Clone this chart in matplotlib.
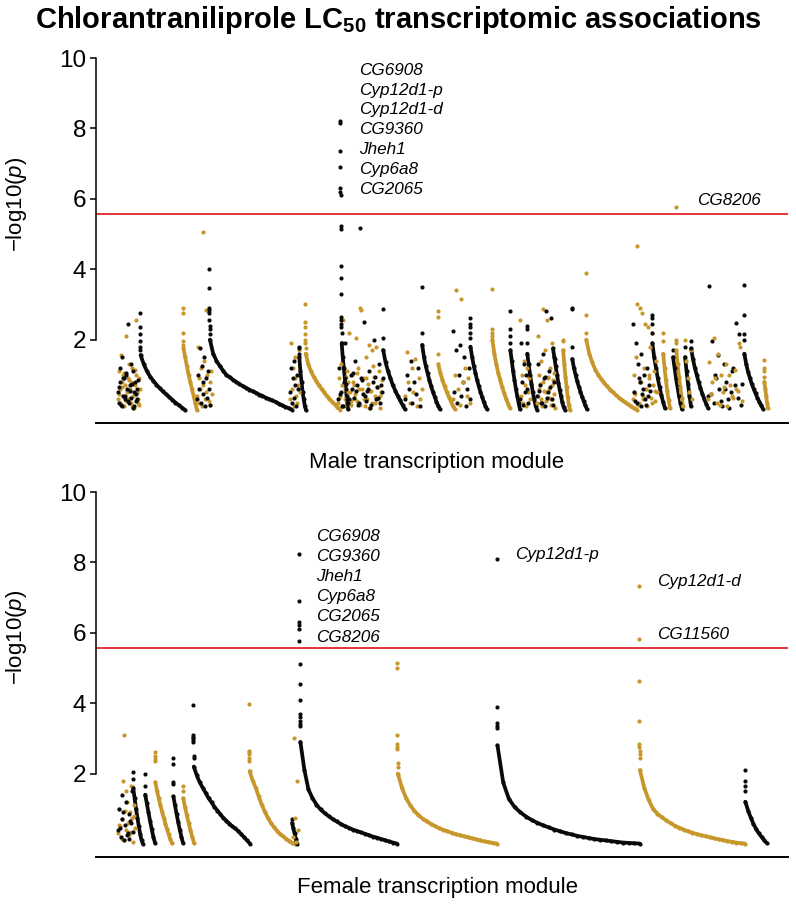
"""
Chlorantraniliprole LC50 transcriptomic associations
Manhattan-style plot of -log10(p) per gene, genes ordered by transcription module

Output: out.png
"""

import matplotlib
matplotlib.use('Agg')
import matplotlib.pyplot as plt
import numpy as np

plt.rcParams.update({
    'font.family': 'Liberation Sans',
    'mathtext.fontset': 'custom',
    'mathtext.rm': 'Liberation Sans',
    'mathtext.it': 'Liberation Sans:italic',
    'mathtext.bf': 'Liberation Sans:bold',
})

GOLD = '#C8972C'
BLACK = '#0A0A0A'
RED = '#E3262B'
THRESHOLD = 5.58   # Bonferroni cut-off, -log10(p)
N_GENES = 6920

# ---- male modules: gene-index range, shade, top hits, remaining genes ----
male_start = [220, 220, 440, 870, 1010, 1010, 1130, 1940, 1940, 2030, 2090, 2420, 2420, 2440,
              2870, 3090, 3090, 3260, 3420, 3570, 3570, 3740, 3960, 4140, 4240, 4240, 4310,
              4410, 4410, 4570, 4670, 4760, 4900, 5370, 5370, 5560, 5670, 5770, 5800, 5890,
              5890, 5950, 6120, 6120, 6480, 6680]
male_end = [440, 420, 890, 1010, 1160, 1140, 1960, 2040, 2020, 2100, 2440, 2860, 2870, 2520,
            3090, 3260, 3240, 3440, 3590, 3740, 3740, 3910, 4140, 4240, 4340, 4320, 4410,
            4590, 4590, 4690, 4740, 4910, 5410, 5610, 5540, 5690, 5740, 5860, 5870, 5950,
            5960, 6120, 6460, 6460, 6670, 6720]
male_shade = ['g', 'k', 'k', 'g', 'g', 'k', 'k', 'g', 'k', 'k', 'g', 'g', 'k', 'k',
              'k', 'g', 'k', 'k', 'g', 'k', 'g', 'k', 'g', 'k', 'g', 'k', 'k',
              'g', 'k', 'k', 'g', 'k', 'g', 'g', 'k', 'k', 'g', 'k', 'g', 'k',
              'g', 'k', 'k', 'g', 'k', 'g']
male_head = [
    [], [], [2.75, 2.35, 2.15, 1.95, 1.8, 1.7], [2.9, 2.75, 2.2, 1.95, 1.85], [], [],
    [4.0, 3.47, 2.9, 2.85, 2.75, 2.55, 2.4, 2.3, 2.15], [], [], [1.8, 1.75, 1.6],
    [3.0, 2.5, 2.35, 2.15, 2.0, 1.9, 1.75], [], [],
    [8.22, 8.15, 7.35, 6.9, 6.3, 6.2, 6.1, 5.22, 5.15, 4.1, 3.75, 3.3, 2.65, 2.55, 2.45, 2.35, 2.2],
    [2.87, 2.05], [], [], [3.5, 2.2], [2.8, 2.65, 1.6], [], [], [2.6, 2.45, 2.35, 2.2, 2.05],
    [3.43, 2.3, 2.2, 2.1], [2.8, 2.3, 2.1, 1.9], [], [], [2.4, 2.3, 1.9],
    [], [], [], [2.0, 1.95], [2.9, 2.87, 1.8], [3.9, 2.7, 2.2], [], [], [2.7, 2.6, 2.45, 2.2],
    [2.2, 1.95], [1.7], [5.77, 2.0, 1.9], [1.8],
    [], [1.95], [], [], [3.55, 2.7, 2.15, 2.0], [1.42, 1.2, 1.1, 0.95],
]
male_body = [
    [0.3, 1.1, 0.45, 0.6, 0.2, 0.15, 1.56, 0.8, 0.65, 0.4, 1.0, 1.05, 0.1, 0.7, 0.25, 2.1, 0.5,
     0.55, 0.9, 0.3, 0.85, 1.3, 0.6, 0.35, 0.2, 0.8, 0.1, 1.2, 0.4, 0.75, 0.05, 0.7, 1.15, 2.55,
     1.0, 0.5, 0.5, 0.3, 0.2, 0.9, 0.15, 0.6],
    [0.5, 0.2, 0.65, 1.2, 0.8, 0.15, 0.1, 1.5, 0.9, 0.4, 0.9, 0.4, 0.3, 1.0, 1.05, 0.6, 2.45,
     0.25, 0.2, 0.7, 0.55, 1.3, 0.35, 0.75, 0.05, 1.1, 0.1, 0.5, 0.8, 0.45, 0.25, 0.6, 0.3, 0.85],
    [1.56, 1.3, 1.1, 0.95, 0.83, 0.72, 0.62, 0.53, 0.45, 0.37, 0.29, 0.21, 0.14, 0.07, 0.0],
    [1.75, 1.5, 1.25, 1.0, 0.8, 0.6, 0.4, 0.2, 0.0],
    [0.4, 1.8, 0.2, 0.9, 0.6, 1.2, 0.1, 0.7, 5.05, 1.4, 0.3, 2.85, 0.5, 1.0, 2.8, 0.25, 0.8, 0.15,
     1.1, 0.45],
    [0.3, 1.0, 0.6, 1.75, 0.2, 1.25, 0.8, 0.45, 1.5, 0.1, 0.9, 0.35, 1.1, 0.6, 0.15],
    [2.0, 1.6, 1.4, 1.25, 1.12, 1.0, 0.93, 0.86, 0.8, 0.74, 0.68, 0.63, 0.58, 0.53, 0.49, 0.44,
     0.4, 0.35, 0.31, 0.27, 0.23, 0.18, 0.13, 0.09, 0.05, 0.01],
    [0.3, 1.9, 0.6, 1.2, 0.1, 0.9, 1.5, 0.4, 0.2, 0.7, 1.7, 0.5],
    [0.5, 1.2, 0.2, 0.9, 0.35, 1.4, 0.7, 0.1, 1.0, 0.6],
    [1.5, 1.1, 0.8, 0.5, 0.3, 0.1, 0.0],
    [1.6, 1.3, 1.1, 0.95, 0.82, 0.7, 0.6, 0.5, 0.4, 0.32, 0.24, 0.16, 0.08, 0.01],
    [0.2, 0.9, 0.35, 0.4, 1.3, 0.7, 0.1, 2.55, 0.1, 0.6, 0.3, 0.95, 1.1, 0.8, 0.5, 2.2, 0.5,
     0.25, 0.15, 1.0, 0.8, 0.7, 0.35, 0.45, 2.05, 0.25, 1.05, 1.2, 0.6, 0.15, 2.9, 2.85, 0.6,
     0.45, 0.9, 0.3, 0.1, 1.5, 0.9, 0.3, 0.75, 0.05, 1.85, 0.55, 0.55, 0.2, 1.7, 1.25, 0.95,
     0.4, 0.2, 1.8, 0.65, 0.65, 0.3, 1.1, 0.4, 0.05, 0.5, 0.85],
    [0.3, 1.2, 0.45, 0.5, 0.1, 0.1, 0.8, 1.9, 0.75, 0.4, 0.2, 0.3, 1.0, 0.6, 1.05, 0.35, 1.4,
     0.55, 0.7, 0.15, 0.2, 5.17, 0.9, 0.85, 0.45, 2.5, 0.4, 0.25, 0.55, 0.6, 1.1, 0.05, 0.15,
     0.8, 2.0, 0.95, 0.3, 0.65, 0.35, 1.3, 0.2, 0.7, 0.5, 0.9],
    [1.9, 1.5, 1.2, 0.9, 0.6, 0.3, 0.02],
    [1.7, 1.35, 1.1, 0.9, 0.7, 0.55, 0.4, 0.27, 0.14, 0.02],
    [0.4, 1.65, 0.8, 0.2, 1.2, 0.5, 1.45, 0.1, 0.9, 0.3, 0.6],
    [0.3, 1.0, 0.6, 1.4, 0.2, 0.8, 0.45, 1.2, 0.1],
    [1.85, 1.5, 1.25, 1.05, 0.85, 0.68, 0.52, 0.38, 0.24, 0.12, 0.02],
    [1.3, 1.05, 0.85, 0.68, 0.52, 0.38, 0.25, 0.12, 0.02],
    [2.25, 0.5, 1.7, 0.2, 1.0, 1.85, 0.4, 0.8, 1.5, 0.1, 0.6, 1.2, 0.3],
    [0.3, 1.0, 3.4, 0.6, 0.15, 3.15, 0.8, 1.2, 0.4, 0.9, 0.2],
    [1.8, 1.5, 1.25, 1.05, 0.85, 0.68, 0.52, 0.38, 0.24, 0.12, 0.02],
    [2.0, 1.6, 1.3, 1.05, 0.85, 0.65, 0.48, 0.32, 0.18, 0.05],
    [1.7, 1.4, 1.1, 0.85, 0.6, 0.4, 0.2, 0.02],
    [2.55, 0.4, 1.0, 0.2, 1.4, 0.7, 0.1, 1.2, 0.5, 0.9, 0.3],
    [0.3, 1.9, 0.8, 0.15, 1.3, 0.5, 1.0, 0.6, 0.2],
    [1.6, 1.3, 1.0, 0.75, 0.5, 0.3, 0.12, 0.01],
    [0.2, 2.1, 0.4, 0.6, 1.0, 0.75, 0.3, 1.4, 0.1, 0.8, 2.87, 0.55, 0.1, 1.7, 0.25, 0.5, 2.55,
     0.95, 0.9, 0.35, 0.6, 1.2, 0.15, 0.3, 0.7, 1.9, 0.85, 0.45, 1.05, 0.05],
    [0.4, 1.3, 0.55, 0.7, 0.2, 0.2, 1.6, 0.9, 0.95, 0.1, 2.8, 0.35, 0.5, 1.1, 0.65, 2.6, 0.3,
     0.15, 0.8, 1.45],
    [1.75, 1.5, 1.25, 1.0, 0.78, 0.58, 0.4, 0.22, 0.08, 0.0],
    [1.7, 1.3, 0.95, 0.65, 0.38, 0.15, 0.0],
    [1.45, 1.2, 1.0, 0.82, 0.66, 0.52, 0.38, 0.25, 0.13, 0.02],
    [2.0, 1.6, 1.35, 1.15, 1.0, 0.88, 0.77, 0.67, 0.58, 0.5, 0.42, 0.35, 0.28, 0.22, 0.16, 0.1,
     0.05, 0.0],
    [0.3, 1.0, 0.5, 0.45, 1.5, 4.65, 3.0, 0.15, 0.2, 2.9, 0.8, 0.8, 2.75, 0.4, 0.3, 1.2, 2.45,
     0.6, 0.6, 0.1, 2.35, 1.0, 0.9, 1.8, 0.35, 0.2, 2.2, 0.7, 1.1, 0.55, 0.25, 1.4, 0.5],
    [2.45, 0.5, 0.25, 1.9, 0.2, 1.3, 0.9, 0.8, 0.1, 1.6, 0.45, 0.6, 1.0, 0.3, 0.15, 1.2, 0.4,
     0.7, 0.55],
    [1.9, 1.5, 1.2, 0.9, 0.65, 0.42, 0.22, 0.05],
    [1.6, 1.2, 0.85, 0.55, 0.28, 0.05],
    [1.5, 1.2, 0.9, 0.65, 0.4, 0.2, 0.02],
    [1.7, 1.3, 0.95, 0.65, 0.35, 0.1],
    [1.5, 1.1, 0.75, 0.4, 0.1],
    [2.0, 1.4, 0.9, 0.5, 1.7, 0.3],
    [1.75, 1.45, 1.2, 1.0, 0.8, 0.62, 0.46, 0.32, 0.18, 0.06],
    [0.4, 3.52, 0.45, 1.95, 0.2, 1.0, 0.9, 1.55, 0.6, 0.25, 0.1, 1.3, 0.6, 0.8, 0.3, 0.05, 0.5,
     1.1, 1.2, 0.7, 2.47, 0.35, 2.15, 0.15, 0.75],
    [0.3, 1.35, 0.45, 0.8, 2.05, 0.9, 0.2, 1.6, 0.15, 1.0, 0.5, 0.65, 1.3, 0.1, 1.0, 0.7, 0.4,
     0.35, 1.15, 0.6, 0.55, 1.9, 1.8, 0.25],
    [1.6, 1.3, 1.08, 0.9, 0.74, 0.6, 0.47, 0.35, 0.24, 0.13, 0.03],
    [0.8, 0.6, 0.4, 0.2, 0.05],
]

# ---- female modules ----
female_start = [220, 220, 370, 490, 590, 770, 870, 970, 1530, 1960, 1970, 2030, 3010, 4010, 5430, 6490]
female_end = [390, 370, 470, 590, 760, 870, 980, 1540, 1990, 2010, 2020, 3010, 4010, 5440, 6490, 6710]
female_shade = ['g', 'k', 'k', 'k', 'g', 'k', 'g', 'k', 'g', 'k', 'g', 'k', 'g', 'k', 'g', 'k']
female_head = [
    [], [], [2.05, 1.85], [2.0, 1.65], [2.6, 2.5, 2.4, 2.35], [2.45, 2.28, 1.75, 1.7], [1.65, 1.5],
    [3.95, 3.1, 3.05, 3.0, 2.95, 2.9, 2.5, 2.45],
    [3.98, 2.65, 2.6, 2.55, 2.45, 2.35],
    [0.72], [],
    [8.24, 6.9, 6.3, 6.22, 6.1, 5.77, 5.11, 4.55, 4.09, 3.7, 3.6, 3.5, 3.4, 3.35],
    [5.15, 5.0, 3.1, 2.85, 2.75, 2.7, 2.3, 2.2],
    [8.1, 3.9, 3.45, 3.35, 3.3],
    [7.33, 5.82, 4.63, 3.5, 2.85, 2.75, 2.65, 2.55, 2.45],
    [2.1, 1.8, 1.65, 1.5],
]
female_body = [
    [0.3, 1.0, 0.55, 0.5, 0.2, 0.7, 0.15, 1.8, 0.1, 3.1, 0.95, 1.5, 0.4, 1.2, 0.6, 0.3, 0.25,
     0.9, 1.65, 0.35, 0.75, 0.05, 0.8, 1.1, 0.45],
    [0.4, 1.0, 0.45, 0.2, 0.7, 1.4, 0.9, 0.1, 0.55, 1.2, 0.25, 0.3, 0.85, 0.15, 0.65, 0.6, 1.5,
     0.35],
    [1.6, 1.3, 1.0, 0.75, 0.5, 0.28, 0.1, 0.0],
    [1.4, 1.15, 0.9, 0.65, 0.42, 0.2, 0.03],
    [1.75, 1.5, 1.3, 1.1, 0.92, 0.75, 0.58, 0.42, 0.27, 0.13, 0.02],
    [1.35, 1.1, 0.85, 0.62, 0.4, 0.2, 0.03],
    [1.3, 1.05, 0.82, 0.6, 0.4, 0.2, 0.03],
    [2.2, 1.95, 1.75, 1.6, 1.45, 1.3, 1.18, 1.05, 0.95, 0.84, 0.74, 0.66, 0.58, 0.5, 0.44, 0.37,
     0.28, 0.19, 0.1, 0.01],
    [2.07, 1.8, 1.6, 1.35, 1.12, 0.92, 0.75, 0.6, 0.48, 0.38, 0.29, 0.22, 0.15, 0.09, 0.04, 0.0],
    [0.6, 0.45, 0.3, 0.15, 0.0],
    [0.2, 3.0, 0.75, 0.05, 1.8, 0.4],
    [2.9, 2.1, 1.55, 1.3, 1.12, 0.98, 0.88, 0.79, 0.71, 0.64, 0.57, 0.51, 0.46, 0.41, 0.37, 0.33,
     0.29, 0.25, 0.21, 0.18, 0.14, 0.11, 0.07, 0.04, 0.01],
    [2.0, 1.6, 1.3, 1.1, 0.94, 0.82, 0.72, 0.64, 0.57, 0.51, 0.45, 0.4, 0.36, 0.32, 0.28, 0.25,
     0.22, 0.19, 0.16, 0.13, 0.1, 0.07, 0.05, 0.03, 0.01],
    [2.8, 1.75, 1.28, 1.05, 0.9, 0.78, 0.68, 0.6, 0.53, 0.47, 0.41, 0.36, 0.31, 0.27, 0.23, 0.2,
     0.17, 0.14, 0.12, 0.1, 0.08, 0.06, 0.04, 0.03, 0.02, 0.01],
    [2.1, 1.6, 1.25, 1.0, 0.86, 0.76, 0.67, 0.59, 0.52, 0.46, 0.41, 0.36, 0.32, 0.28, 0.25, 0.22,
     0.19, 0.16, 0.13, 0.11, 0.08, 0.06, 0.04, 0.02, 0.01],
    [1.2, 0.95, 0.75, 0.57, 0.42, 0.3, 0.2, 0.1, 0.02],
]

# ---- significant gene labels ----
male_genes = ['CG6908', 'Cyp12d1-p', 'Cyp12d1-d', 'CG9360', 'Jheh1', 'Cyp6a8', 'CG2065']
male_extra_gene = 'CG8206'
female_genes = ['CG6908', 'CG9360', 'Jheh1', 'Cyp6a8', 'CG2065', 'CG8206']
female_extra_genes = ['Cyp12d1-p', 'Cyp12d1-d', 'CG11560']
female_extra_y = [8.22, 7.45, 5.96]


def draw_modules(ax, start, end, shade, head, body):
    for s, e, c, h, b in zip(start, end, shade, head, body):
        col = GOLD if c == 'g' else BLACK
        hx = s + np.arange(len(h))
        bx = np.linspace(s + len(h), e, len(b))
        if len(b) > 2 and np.all(np.diff(b) <= 0):
            # long runs of genes render as a continuous band
            ax.plot(bx, b, color=col, lw=2.7, solid_capstyle='round', zorder=2)
        ax.scatter(np.r_[hx, bx], np.r_[h, b], s=9, color=col, lw=0, zorder=3)


def style_axis(ax):
    ax.set_xlim(0, N_GENES)
    ax.set_ylim(-0.37, 10.2)
    ax.axhline(THRESHOLD, color=RED, lw=1.3, zorder=1)
    ax.spines['top'].set_visible(False)
    ax.spines['right'].set_visible(False)
    ax.spines['left'].set_bounds(2, 10)
    ax.spines['left'].set_linewidth(1.1)
    ax.spines['bottom'].set_linewidth(1.4)
    ax.set_xticks([])
    ax.set_yticks([2, 4, 6, 8, 10])
    ax.tick_params(axis='y', direction='out', length=4, width=1.1, labelsize=17.5, pad=3)
    ax.patch.set_visible(False)


fig = plt.figure(figsize=(7.96, 9.06), dpi=100)
ax1 = fig.add_axes([0.1206, 0.5331, 0.8693, 0.4106])
ax2 = fig.add_axes([0.1206, 0.0541, 0.8693, 0.4106])

draw_modules(ax1, male_start, male_end, male_shade, male_head, male_body)
draw_modules(ax2, female_start, female_end, female_shade, female_head, female_body)
style_axis(ax1)
style_axis(ax2)

label_kw = dict(fontsize=12.3, style='italic', va='center', ha='left')
for i, g in enumerate(male_genes):
    ax1.text(2630, 9.66 - 0.568 * i, g, **label_kw)
ax1.text(6010, 5.94, male_extra_gene, **label_kw)

for i, g in enumerate(female_genes):
    ax2.text(2200, 8.75 - 0.575 * i, g, **label_kw)
ax2.text(4190, female_extra_y[0], female_extra_genes[0], **label_kw)
ax2.text(5610, female_extra_y[1], female_extra_genes[1], **label_kw)
ax2.text(5610, female_extra_y[2], female_extra_genes[2], **label_kw)

fig.text(0.5, 0.978, r'Chlorantraniliprole LC$_{\mathbf{50}}$ transcriptomic associations',
         ha='center', va='center', fontsize=21, fontweight='bold')
fig.text(0.549, 0.490, 'Male transcription module', ha='center', va='center', fontsize=16)
fig.text(0.549, 0.020, 'Female transcription module', ha='center', va='center', fontsize=16)
fig.text(0.021, 0.774, r'−log10($\mathit{p}$)', rotation=90, ha='center', va='center', fontsize=16)
fig.text(0.021, 0.297, r'−log10($\mathit{p}$)', rotation=90, ha='center', va='center', fontsize=16)

fig.savefig('out.png', dpi=100)
plt.close(fig)
